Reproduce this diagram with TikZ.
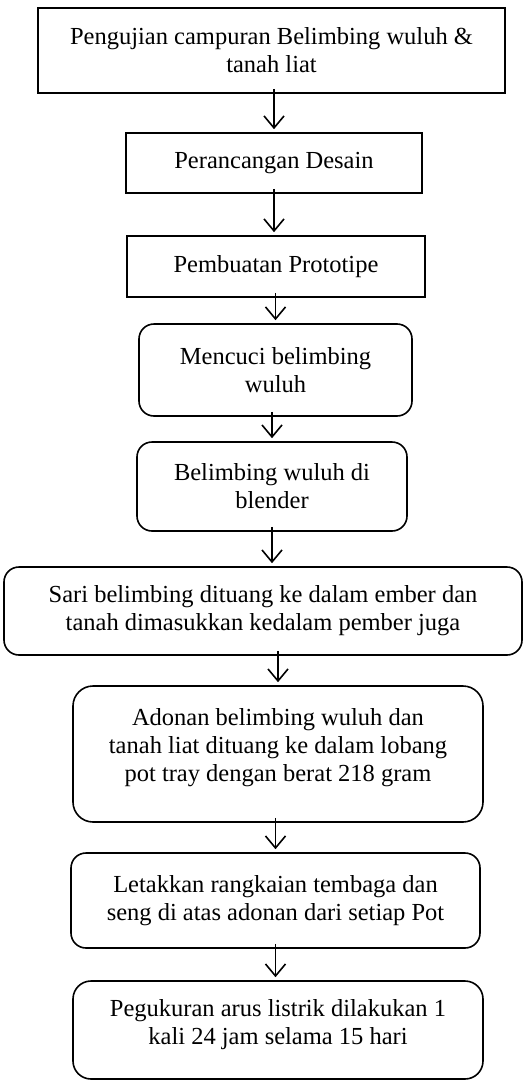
\documentclass[tikz,border=0pt]{standalone}
\usepackage{fontspec}
\setmainfont{Liberation Serif}
\usetikzlibrary{arrows.meta}
\begin{document}
\begin{tikzpicture}[x=1pt,y=1pt,
  boxbase/.style={draw=black, line width=1.6pt, inner sep=0pt, align=center,
    font=\fontsize{24.5}{28}\selectfont, text=black},
  sqbox/.style={boxbase},
  rbox/.style={boxbase, rounded corners=15pt},
  arr/.style={line width=1.6pt, -{Straight Barb[length=12pt,width=20pt,line width=1.6pt]}, shorten >=3pt, shorten <=-5pt}
]
\useasboundingbox (0,0) rectangle (529,-1081);
\node[sqbox, minimum width=467pt, minimum height=85pt] (b1) at (271.5,-50.5)
  {Pengujian campuran Belimbing wuluh \&\\ tanah liat};
\node[sqbox, minimum width=296pt, minimum height=60pt] (b2) at (274,-163)
  {Perancangan Desain};
\node[sqbox, minimum width=298pt, minimum height=61pt] (b3) at (276,-266.5)
  {Pembuatan Prototipe};
\node[rbox, minimum width=273pt, minimum height=92pt] (b4) at (275.5,-370)
  {Mencuci belimbing\\ wuluh};
\node[rbox, minimum width=270pt, minimum height=89pt] (b5) at (272,-486.5)
  {Belimbing wuluh di\\ blender};
\node[rbox, minimum width=518pt, minimum height=88pt] (b6) at (263,-611)
  {Sari belimbing dituang ke dalam ember dan\\ tanah dimasukkan kedalam pember juga};
\node[rbox, rounded corners=20pt, minimum width=410pt, minimum height=136pt, text depth=17.5pt] (b7) at (278,-754)
  {Adonan belimbing wuluh dan\\ tanah liat dituang ke dalam lobang\\ pot tray dengan berat 218 gram};
\node[rbox, minimum width=409pt, minimum height=95pt] (b8) at (275.5,-900.5)
  {Letakkan rangkaian tembaga dan\\ seng di atas adonan dari setiap Pot};
\node[rbox, rounded corners=18pt, minimum width=410pt, minimum height=98pt, text depth=15.5pt] (b9) at (278,-1030)
  {Pegukuran arus listrik dilakukan 1\\ kali 24 jam selama 15 hari};
\draw[arr] (b1.south -| b2.north) -- (b2.north);
\draw[arr] (b2.south) -- (b2.south |- b3.north);
\draw[arr] (b3.south -| b4.north) -- (b4.north);
\draw[arr] (b4.south -| b5.north) -- (b5.north);
\draw[arr] (b5.south) -- (b5.south |- b6.north);
\draw[arr] (b6.south -| b7.north) -- (b7.north);
\draw[arr] (b7.south -| b8.north) -- (b8.north);
\draw[arr] (b8.south) -- (b8.south |- b9.north);
\end{tikzpicture}
\end{document}
